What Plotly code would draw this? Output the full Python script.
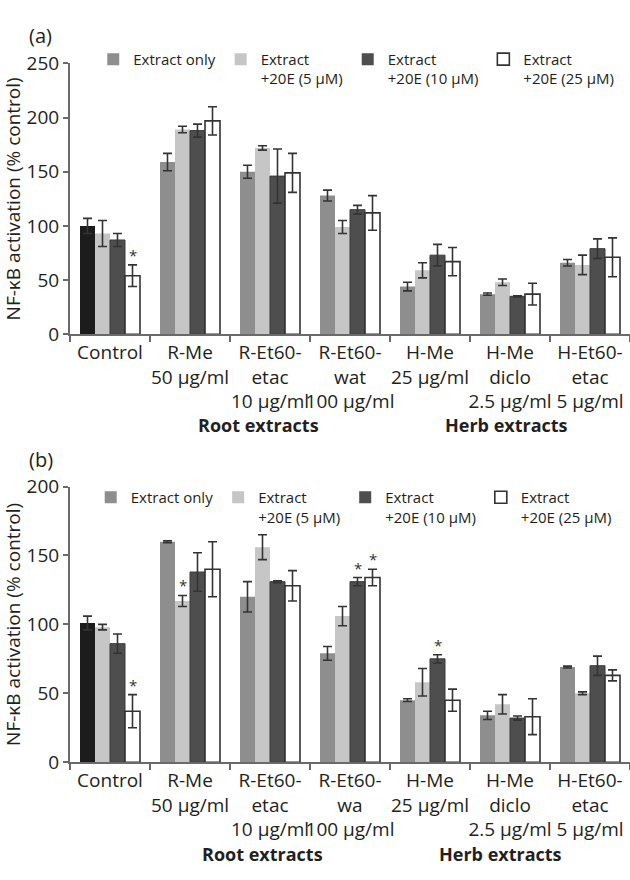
import plotly.graph_objects as go
from plotly.subplots import make_subplots

# ---------------- data ----------------
cats_a = ["Control", "R-Me<br>50 μg/ml", "R-Et60-<br>etac<br>10 μg/ml", "R-Et60-<br>wat<br>100 μg/ml",
          "H-Me<br>25 μg/ml", "H-Me<br>diclo<br>2.5 μg/ml", "H-Et60-<br>etac<br>5 μg/ml"]
cats_b = ["Control", "R-Me<br>50 μg/ml", "R-Et60-<br>etac<br>10 μg/ml", "R-Et60-<br>wa<br>100 μg/ml",
          "H-Me<br>25 μg/ml", "H-Me<br>diclo<br>2.5 μg/ml", "H-Et60-<br>etac<br>5 μg/ml"]

series_names = ["Extract only", "Extract<br>+20E (5 μM)", "Extract<br>+20E (10 μM)", "Extract<br>+20E (25 μM)"]

# panel (a)
a_only = [100, 159, 150, 128, 44, 37, 66]
a_only_err = [7, 8, 6, 5, 4, 1, 3]
a_5 = [93, 189, 172, 99, 59, 48, 64]
a_5_err = [12, 3, 2, 6, 7, 3, 9]
a_10 = [87, 188, 146, 115, 73, 35, 79]
a_10_err = [6, 6, 25, 4, 10, 0.5, 9]
a_25 = [54, 197, 149, 112, 67, 37, 71]
a_25_err = [10, 13, 18, 16, 13, 10, 18]
a_sig = [[], [], [], [0]]  # category indices with significance star, per series

# panel (b)
b_only = [101, 160, 120, 79, 45, 34, 69]
b_only_err = [5, 0.7, 11, 5, 1, 3, 0.7]
b_5 = [98, 117, 156, 106, 58, 42, 50]
b_5_err = [2, 4, 9, 7, 10, 7, 1]
b_10 = [86, 138, 131, 131, 75, 32, 70]
b_10_err = [7, 14, 0.7, 3, 3, 1.5, 7]
b_25 = [37, 140, 128, 134, 45, 33, 63]
b_25_err = [12, 20, 11, 6, 8, 13, 4]
b_sig = [[], [1], [3, 4], [0, 3]]

group_labels = ["Root extracts", "Herb extracts"]

# ---------------- style ----------------
FONT = "Open Sans"
TXT = "#231f20"
fills = ["#8e8e8e", "#c6c6c6", "#4e4e4e", "#ffffff"]
lines = ["#8e8e8e", "#c6c6c6", "#3a3a3a", "#333333"]
line_w = [0, 0, 1, 1.6]
control_color = "#1c1c1c"
AX = "#6a6a6a"

fig = make_subplots(rows=2, cols=1)

panels = [
    (cats_a, [a_only, a_5, a_10, a_25], [a_only_err, a_5_err, a_10_err, a_25_err], a_sig, 1, "legend"),
    (cats_b, [b_only, b_5, b_10, b_25], [b_only_err, b_5_err, b_10_err, b_25_err], b_sig, 2, "legend2"),
]

bargap = 0.25
nser = 4
bw = (1 - bargap) / nser

for cats, vals, errs, sig, row, leg in panels:
    for k in range(nser):
        colors = [fills[k]] * len(cats)
        lcolors = [lines[k]] * len(cats)
        if k == 0:
            colors[0] = control_color
            lcolors[0] = control_color
        fig.add_trace(go.Bar(
            x=cats, y=vals[k], name=series_names[k], legend=leg,
            marker=dict(color=colors, line=dict(color=lcolors, width=line_w[k])),
            error_y=dict(type="data", array=errs[k], visible=True, color="#333333",
                         thickness=1.6, width=4.5),
            showlegend=False, offsetgroup=str(k),
        ), row=row, col=1)
        # legend entry
        fig.add_trace(go.Scatter(
            x=[None], y=[None], mode="markers", name=series_names[k], legend=leg,
            marker=dict(symbol="square", size=12, color=fills[k],
                        line=dict(color=lines[k] if k == 3 else fills[k], width=1.6 if k == 3 else 0)),
            showlegend=True, hoverinfo="skip",
        ), row=row, col=1)
        for i in sig[k]:
            xpos = i - (1 - bargap) / 2 + bw * (k + 0.5)
            fig.add_annotation(x=xpos, y=vals[k][i] + errs[k][i], xref=f"x{'' if row == 1 else row}",
                               yref=f"y{'' if row == 1 else row}", text="*", showarrow=False,
                               yanchor="bottom", yshift=-2, font=dict(size=15, color="#333333", family=FONT))

fig.update_layout(
    width=630, height=880,
    margin=dict(l=0, r=0, t=0, b=0),
    paper_bgcolor="white", plot_bgcolor="white",
    barmode="group", bargap=bargap, bargroupgap=0,
    font=dict(family=FONT, color=TXT, size=18),
    legend=dict(orientation="h", x=0.148, y=0.965, xanchor="left", yanchor="top",
                font=dict(size=15, family=FONT, color=TXT),
                valign="top", bgcolor="rgba(0,0,0,0)", itemwidth=30, traceorder="normal"),
    legend2=dict(orientation="h", x=0.144, y=0.452, xanchor="left", yanchor="top",
                 font=dict(size=15, family=FONT, color=TXT),
                 valign="top", bgcolor="rgba(0,0,0,0)", itemwidth=30, traceorder="normal"),
)

xdom = [70 / 630, 1.0]
fig.update_xaxes(domain=xdom, showline=True, linecolor=AX, linewidth=2, ticks="outside",
                 tickson="boundaries", ticklen=6, tickcolor=AX, tickwidth=2, tickangle=0,
                 tickfont=dict(size=19, family=FONT, color=TXT), showgrid=False, zeroline=False)
fig.update_yaxes(showline=True, linecolor=AX, linewidth=2, ticks="outside", ticklen=5,
                 tickcolor=AX, tickwidth=2, tickfont=dict(size=19, family=FONT, color=TXT),
                 showgrid=False, zeroline=False,
                 title=dict(text="NF-κB activation (% control)", font=dict(size=19, family=FONT, color=TXT),
                            standoff=4))
fig.update_yaxes(range=[0, 250], dtick=50, domain=[1 - 331 / 880, 1 - 52 / 880], row=1, col=1)
fig.update_yaxes(range=[0, 200], dtick=50, domain=[1 - 772 / 880, 1 - 488 / 880], row=2, col=1)

# panel letters
fig.add_annotation(x=27 / 630, y=1 - 23 / 880, xref="paper", yref="paper", text="(a)", showarrow=False,
                   xanchor="left", yanchor="middle", font=dict(size=20, family=FONT, color=TXT))
fig.add_annotation(x=27 / 630, y=1 - 460 / 880, xref="paper", yref="paper", text="(b)", showarrow=False,
                   xanchor="left", yanchor="middle", font=dict(size=20, family=FONT, color=TXT))

# group labels
for row, ypix, xs in [(1, 425, [1.86, 4.95]), (2, 867, [1.9, 4.88])]:
    for lab, xv in zip(group_labels, xs):
        fig.add_annotation(x=xv, y=1 - ypix / 880, xref=f"x{'' if row == 1 else row}", yref="paper",
                           text=f"<b>{lab}</b>", showarrow=False, xanchor="center", yanchor="middle",
                           font=dict(size=18, family=FONT, color=TXT))

fig.write_html("out.html", config={"displayModeBar": False},
               post_script="document.body.style.margin='0';document.body.style.overflow='hidden';")
